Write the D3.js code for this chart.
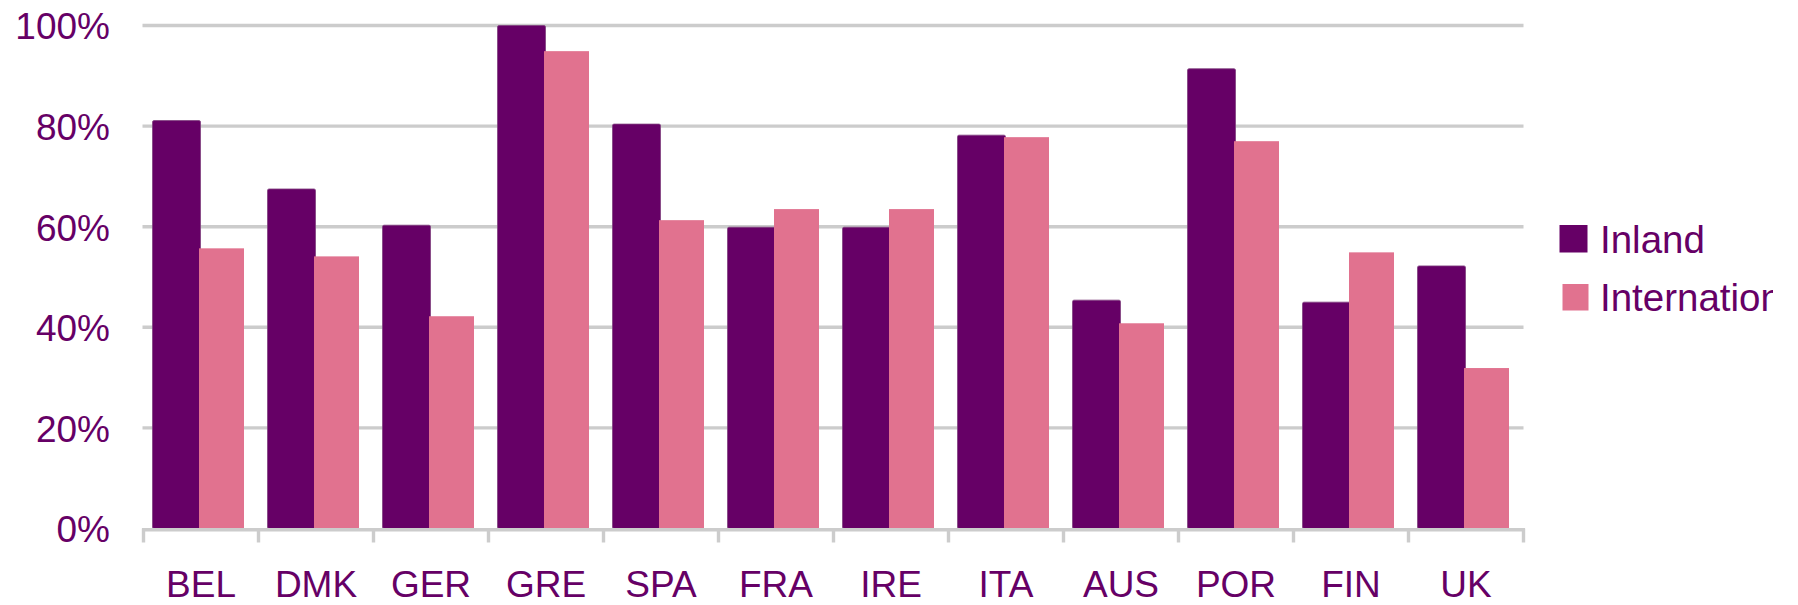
<!DOCTYPE html>
<html>
<head>
<meta charset="utf-8">
<script src="https://cdn.jsdelivr.net/npm/d3@7"></script>
<style>
  body { margin: 0; background: #ffffff; }
  svg { display: block; }
</style>
</head>
<body>
<div id="chart"></div>
<script>
// values (percent)
var categories = ["BEL", "DMK", "GER", "GRE", "SPA", "FRA", "IRE", "ITA", "AUS", "POR", "FIN", "UK"];
var seriesNames = ["Inland", "International"];
var inland = [81.1, 67.5, 60.3, 100, 80.4, 59.9, 59.9, 78.2, 45.4, 91.4, 45.0, 52.2];
var international = [55.7, 54.1, 42.2, 94.9, 61.3, 63.5, 63.5, 77.8, 40.8, 77.0, 54.9, 31.9];
var yTicks = [0, 20, 40, 60, 80, 100];

var colours = {"Inland": "#660066", "International": "#e1728f"};
var textColour = "#660066";
var gridColour = "#cccccc";

var width = 1798, height = 605;
var plot = {left: 143.5, right: 1523.5, top: 25.5, bottom: 528.5};

var data = categories.map(function(c, i) {
  return {cat: c, values: [
    {series: "Inland", value: inland[i]},
    {series: "International", value: international[i]}
  ]};
});

var svg = d3.select("#chart").append("svg")
  .attr("width", width)
  .attr("height", height)
  .style("font-family", "'Liberation Sans', Arial, sans-serif");

//scales
var x0 = d3.scaleBand()
  .domain(categories)
  .range([plot.left, plot.right]);

var x1 = d3.scaleBand()
  .domain(seriesNames)
  .range([9, 102]);

var y = d3.scaleLinear()
  .domain([0, 100])
  .range([plot.bottom, plot.top]);

//gridlines
svg.append("g")
  .attr("class", "grid")
  .selectAll("line")
  .data(yTicks.filter(function(d) { return d > 0; }))
  .enter().append("line")
  .attr("x1", plot.left - 1)
  .attr("x2", plot.right)
  .attr("y1", function(d) { return y(d); })
  .attr("y2", function(d) { return y(d); })
  .attr("stroke", gridColour)
  .attr("stroke-width", 3.4);

//y axis labels
var yAxis = d3.axisLeft(y)
  .tickValues(yTicks)
  .tickSize(0)
  .tickPadding(0)
  .tickFormat(function(d) { return d + "%"; });

var gy = svg.append("g")
  .attr("class", "y axis")
  .attr("transform", "translate(110,0)")
  .call(yAxis);
gy.select(".domain").remove();
gy.selectAll("text")
  .attr("x", 0)
  .attr("dy", "0.36em")
  .style("font-size", "37px")
  .style("fill", textColour);

//bars
var groups = svg.append("g")
  .attr("class", "bars")
  .selectAll(".group")
  .data(data)
  .enter().append("g")
  .attr("transform", function(d) { return "translate(" + x0(d.cat) + ",0)"; });

groups.selectAll("rect")
  .data(function(d) { return d.values; })
  .enter().append("rect")
  .attr("x", function(d) { return x1(d.series); })
  .attr("width", function(d) { return d.series == "Inland" ? x1.bandwidth() + 1.5 : x1.bandwidth() - 1.5; })
  .attr("y", function(d) { return y(d.value); })
  .attr("height", function(d) { return y(0) - y(d.value); })
  .attr("rx", function(d) { return d.series == "Inland" ? 1.5 : 0; })
  .attr("fill", function(d) { return colours[d.series]; })
  .attr("stroke", function(d) { return d.series == "Inland" ? "#80407f" : "none"; })
  .attr("stroke-width", 0.8);

//x axis line + boundary ticks
var gx = svg.append("g").attr("class", "x axis");
gx.append("line")
  .attr("x1", plot.left - 1.5)
  .attr("x2", plot.right + 1.5)
  .attr("y1", plot.bottom + 1.2)
  .attr("y2", plot.bottom + 1.2)
  .attr("stroke", gridColour)
  .attr("stroke-width", 3.4);

var edges = categories.map(function(c) { return x0(c); }).concat([plot.right]);
gx.selectAll(".edge")
  .data(edges)
  .enter().append("line")
  .attr("class", "edge")
  .attr("x1", function(d) { return d; })
  .attr("x2", function(d) { return d; })
  .attr("y1", plot.bottom)
  .attr("y2", plot.bottom + 14)
  .attr("stroke", gridColour)
  .attr("stroke-width", 3.4);

var xAxis = d3.axisBottom(x0).tickSize(0).tickPadding(0);
var gxl = svg.append("g")
  .attr("class", "x labels")
  .call(xAxis);
gxl.select(".domain").remove();
gxl.selectAll("text")
  .attr("y", 597)
  .attr("dy", 0)
  .style("font-size", "37px")
  .style("fill", textColour);

//legend, clipped at the right like the original
svg.append("clipPath")
  .attr("id", "legendClip")
  .append("rect")
  .attr("x", 1540).attr("y", 180)
  .attr("width", 233).attr("height", 160);

var legend = svg.append("g")
  .attr("class", "legend")
  .attr("clip-path", "url(#legendClip)");

var legendItems = legend.selectAll(".item")
  .data(seriesNames)
  .enter().append("g")
  .attr("transform", function(d, i) { return "translate(0," + (i * 58.5) + ")"; });

legendItems.append("rect")
  .attr("x", function(d, i) { return i == 0 ? 1559.5 : 1562.5; })
  .attr("y", function(d, i) { return i == 0 ? 225 : 225.5; })
  .attr("width", function(d, i) { return i == 0 ? 28 : 26; })
  .attr("height", function(d, i) { return i == 0 ? 27.5 : 26.5; })
  .attr("fill", function(d) { return colours[d]; });

legendItems.append("text")
  .attr("x", 1600)
  .attr("y", 252.5)
  .style("font-size", "38.5px")
  .style("fill", textColour)
  .text(function(d) { return d; });
</script>
</body>
</html>
